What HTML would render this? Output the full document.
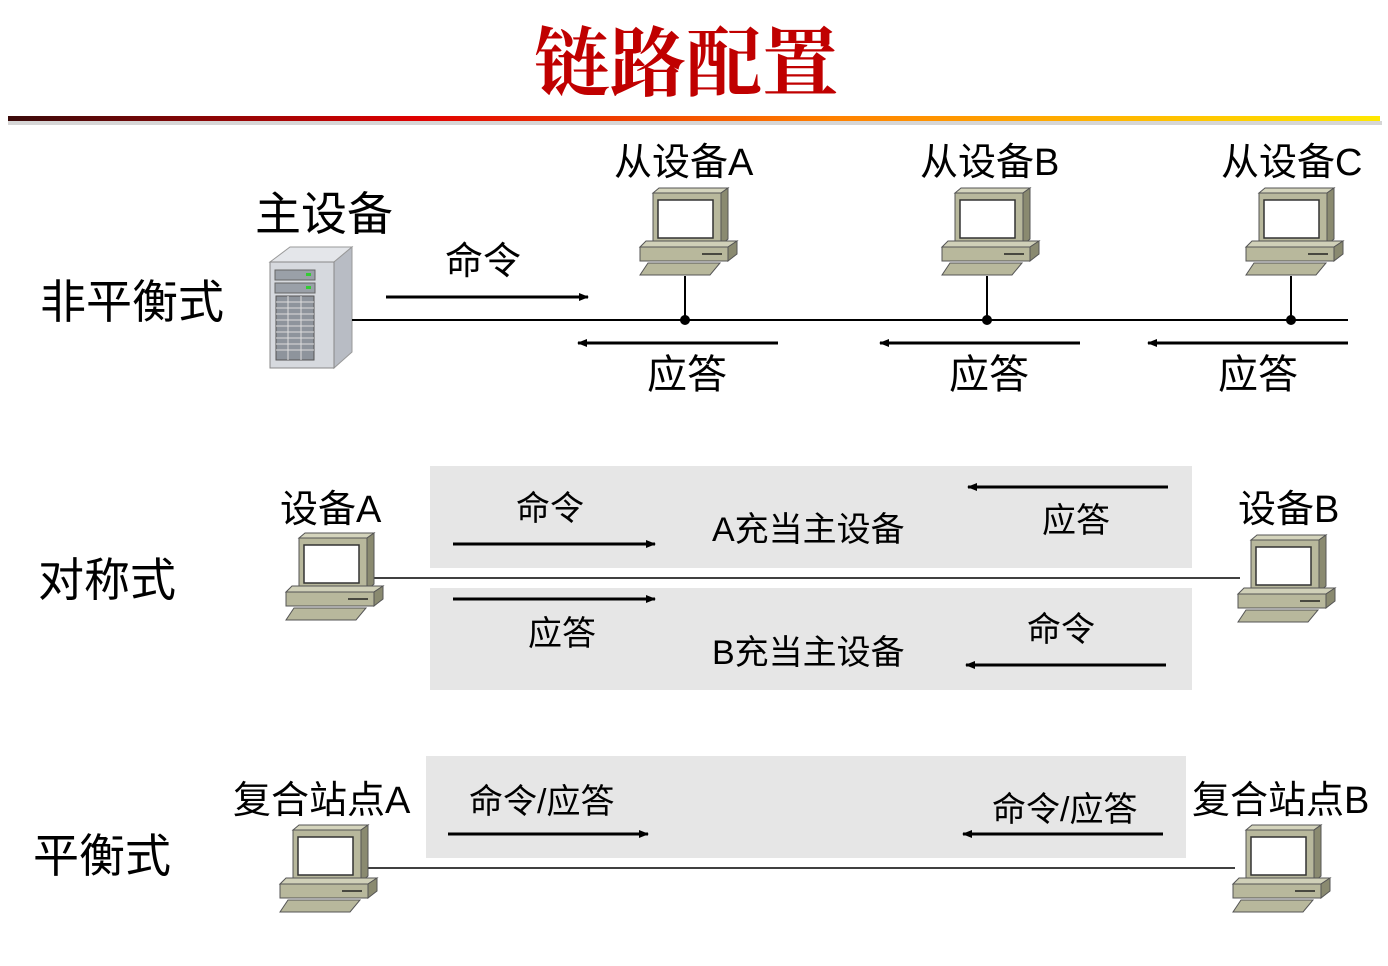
<!DOCTYPE html>
<html><head><meta charset="utf-8"><style>
html,body{margin:0;padding:0;background:#fff;}
svg{display:block;}
text{font-family:"Liberation Sans","Noto Sans CJK SC",sans-serif;fill:#000;}
</style></head><body>
<svg width="1388" height="966" viewBox="0 0 1388 966" xmlns="http://www.w3.org/2000/svg">
<defs>
<linearGradient id="g" x1="0" x2="1" y1="0" y2="0">
<stop offset="0" stop-color="#3a0a0a"/><stop offset="0.3" stop-color="#e00000"/><stop offset="0.6" stop-color="#ff8000"/><stop offset="1" stop-color="#ffe800"/>
</linearGradient>
<marker id="ar" markerWidth="10" markerHeight="8" refX="9" refY="4" orient="auto" markerUnits="userSpaceOnUse"><path d="M0,0L10,4L0,8z" fill="#000"/></marker>
<symbol id="pc" overflow="visible">
<polygon points="13,5 19,0 88,0 81,5" fill="#d4d4bc" stroke="#555" stroke-width="1"/>
<polygon points="81,5 88,0 88,51 81,57" fill="#8a8a70" stroke="#555" stroke-width="1"/>
<rect x="13" y="5" width="68" height="52" fill="#b8b89c" stroke="#555"/>
<rect x="18" y="12" width="55" height="38" fill="#fff" stroke="#333" stroke-width="1.5"/>
<polygon points="0,59 6,53 97,53 88,59" fill="#d0d0b8" stroke="#555"/>
<polygon points="88,59 97,53 97,66 88,73" fill="#8a8a70" stroke="#555"/>
<rect x="0" y="59" width="88" height="14" fill="#b8b89c" stroke="#555"/>
<line x1="62" y1="66" x2="82" y2="66" stroke="#222" stroke-width="1.5"/>
<polygon points="8,75 80,75 70,87 0,87" fill="#b8b89c" stroke="#555"/>
</symbol>
</defs>
<text x="686" y="90" text-anchor="middle" style="font-family:'Noto Serif CJK SC',serif;font-weight:bold;font-size:76px;fill:#c00000">链路配置</text>
<rect x="8" y="121" width="1374" height="4" fill="#bbb" opacity="0.6"/>
<rect x="8" y="116" width="1372" height="5" fill="url(#g)"/>

<!-- section 1 -->
<text x="40" y="318" font-size="46">非平衡式</text>
<text x="255" y="230" font-size="46">主设备</text>
<text x="614" y="175" font-size="38">从设备A</text>
<text x="920" y="175" font-size="38">从设备B</text>
<text x="1221" y="175" font-size="38">从设备C</text>
<text x="445" y="274" font-size="38">命令</text>
<text x="647" y="388" font-size="40">应答</text>
<text x="949" y="388" font-size="40">应答</text>
<text x="1218" y="388" font-size="40">应答</text>
<!-- server -->
<polygon points="270,262 290,247 352,247 334,262" fill="#e4e6ea" stroke="#999"/>
<polygon points="334,262 352,247 352,352 334,368" fill="#b8bcc4" stroke="#999"/>
<rect x="270" y="262" width="64" height="106" fill="#d6d9de" stroke="#888"/>
<rect x="275" y="270" width="40" height="10" fill="#9aa0a8" stroke="#666"/>
<rect x="275" y="283" width="40" height="10" fill="#9aa0a8" stroke="#666"/>
<rect x="306" y="273" width="5" height="3" fill="#3c3"/><rect x="306" y="286" width="5" height="3" fill="#3c3"/>
<rect x="276" y="296" width="38" height="64" fill="#8e949c" stroke="#555"/>
<g stroke="#ddd" stroke-width="1"><line x1="276" y1="302" x2="314" y2="302"/><line x1="276" y1="308" x2="314" y2="308"/><line x1="276" y1="314" x2="314" y2="314"/><line x1="276" y1="320" x2="314" y2="320"/><line x1="276" y1="326" x2="314" y2="326"/><line x1="276" y1="332" x2="314" y2="332"/><line x1="276" y1="338" x2="314" y2="338"/><line x1="276" y1="344" x2="314" y2="344"/><line x1="276" y1="350" x2="314" y2="350"/><line x1="288" y1="296" x2="288" y2="360"/><line x1="301" y1="296" x2="301" y2="360"/></g>
<line x1="352" y1="320" x2="1348" y2="320" stroke="#000" stroke-width="2"/>
<use href="#pc" x="640" y="188"/><use href="#pc" x="942" y="188"/><use href="#pc" x="1246" y="188"/>
<g stroke="#000" stroke-width="2"><line x1="685" y1="276" x2="685" y2="320"/><line x1="987" y1="276" x2="987" y2="320"/><line x1="1291" y1="276" x2="1291" y2="320"/></g>
<circle cx="685" cy="320" r="5"/><circle cx="987" cy="320" r="5"/><circle cx="1291" cy="320" r="5"/>
<g stroke="#000" stroke-width="3" marker-end="url(#ar)">
<line x1="386" y1="297" x2="588" y2="297"/>
<line x1="778" y1="343" x2="578" y2="343"/>
<line x1="1080" y1="343" x2="880" y2="343"/>
<line x1="1348" y1="343" x2="1148" y2="343"/>
</g>

<!-- section 2 -->
<rect x="430" y="466" width="762" height="102" fill="#e6e6e6"/>
<rect x="430" y="588" width="762" height="102" fill="#e6e6e6"/>
<text x="38" y="596" font-size="46">对称式</text>
<text x="280" y="522" font-size="38">设备A</text>
<text x="1238" y="522" font-size="38">设备B</text>
<text x="516" y="520" font-size="34">命令</text>
<text x="1042" y="532" font-size="34">应答</text>
<text x="712" y="541" font-size="34">A充当主设备</text>
<text x="528" y="645" font-size="34">应答</text>
<text x="1027" y="641" font-size="34">命令</text>
<text x="712" y="664" font-size="34">B充当主设备</text>
<line x1="370" y1="578" x2="1240" y2="578" stroke="#000" stroke-width="1.5"/>
<use href="#pc" x="286" y="533"/><use href="#pc" x="1238" y="535"/>
<g stroke="#000" stroke-width="3" marker-end="url(#ar)">
<line x1="453" y1="544" x2="655" y2="544"/>
<line x1="1168" y1="487" x2="968" y2="487"/>
<line x1="453" y1="599" x2="655" y2="599"/>
<line x1="1166" y1="665" x2="966" y2="665"/>
</g>

<!-- section 3 -->
<rect x="426" y="756" width="760" height="102" fill="#e6e6e6"/>
<text x="33" y="872" font-size="46">平衡式</text>
<text x="233" y="813" font-size="38">复合站点A</text>
<text x="1192" y="813" font-size="38">复合站点B</text>
<text x="469" y="813" font-size="34">命令/应答</text>
<text x="992" y="821" font-size="34">命令/应答</text>
<line x1="360" y1="868" x2="1235" y2="868" stroke="#000" stroke-width="1.5"/>
<use href="#pc" x="280" y="825"/><use href="#pc" x="1233" y="825"/>
<g stroke="#000" stroke-width="3" marker-end="url(#ar)">
<line x1="448" y1="834" x2="648" y2="834"/>
<line x1="1163" y1="834" x2="963" y2="834"/>
</g>
</svg>
</body></html>
